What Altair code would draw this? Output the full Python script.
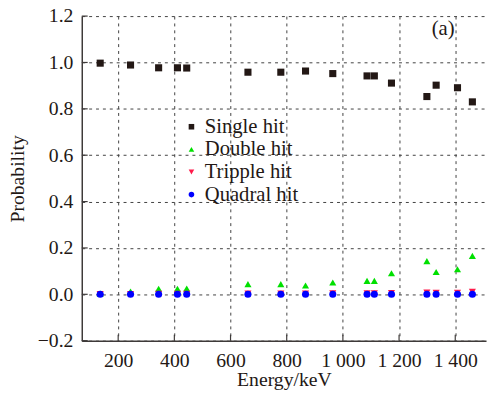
import altair as alt
import pandas as pd

# ---- data ----
energy = [136, 244, 344, 411, 444, 662, 779, 867, 964, 1086, 1112, 1173, 1299, 1332, 1408, 1461]
single_hit = [0.997, 0.989, 0.977, 0.977, 0.976, 0.958, 0.958, 0.963, 0.952, 0.942, 0.942, 0.911, 0.853, 0.902, 0.891, 0.830]
double_hit = [0.003, 0.012, 0.024, 0.024, 0.025, 0.044, 0.044, 0.038, 0.051, 0.058, 0.058, 0.091, 0.143, 0.096, 0.108, 0.166]
tripple_hit = [0.001, 0.001, 0.002, 0.002, 0.002, 0.003, 0.003, 0.003, 0.004, 0.004, 0.004, 0.005, 0.007, 0.006, 0.006, 0.011]
quadral_hit = [0.0, 0.0, 0.0, 0.0, 0.0, 0.0, 0.0, 0.0, 0.0, 0.0, 0.0, 0.0, 0.0, 0.0, 0.0, 0.0]

series_names = ["Single hit", "Double hit", "Tripple hit", "Quadral hit"]
series_colors = ["#231815", "#00e000", "#ff1a4a", "#0000ff"]
series_shapes = ["square", "triangle-up", "triangle-down", "circle"]

x_ticks = [200, 400, 600, 800, 1000, 1200, 1400]
y_ticks = [-0.2, 0.0, 0.2, 0.4, 0.6, 0.8, 1.0, 1.2]

panel_label = ["(a)"]
panel_label_x = [1357]
panel_label_y = [1.143]

# ---- build tables ----
rows = []
idx = 0
for name, vals in zip(series_names, [single_hit, double_hit, tripple_hit, quadral_hit]):
    for e, v in zip(energy, vals):
        rows.append({"energy": e, "prob": v, "series": name, "idx": idx})
        idx += 1
df = pd.DataFrame(rows)

text_color = "#231815"
axis_color = "#3e3a39"
font = "Liberation Serif"
W, H = 411, 330

x_scale = alt.Scale(domain=[70.4, 1509.6], nice=False, zero=False)
y_scale = alt.Scale(domain=[-0.2, 1.2], nice=False, zero=False)
x_axis = alt.Axis(values=x_ticks, title="Energy/keV",
                  labelExpr="replace(format(datum.value, ','), ',', ' ')",
                  labelPadding=10, titlePadding=0)
y_axis = alt.Axis(values=y_ticks, title="Probability", format=".1f",
                  labelPadding=9, titlePadding=10)
X = alt.X("energy:Q", scale=x_scale, axis=x_axis)
Y = alt.Y("prob:Q", scale=y_scale, axis=y_axis)

legend_cfg = dict(
    title=None, orient="none", legendX=101, legendY=102,
    labelFont=font, labelFontSize=21, labelColor=text_color,
    symbolSize=32, symbolStrokeWidth=0, labelOffset=3, rowPadding=1,
    padding=0,
)

points = alt.Chart(df).mark_point(filled=True, size=52, opacity=1, strokeWidth=0).encode(
    x=X, y=Y,
    color=alt.Color("series:N", scale=alt.Scale(domain=series_names, range=series_colors),
                    legend=alt.Legend(**legend_cfg)),
    shape=alt.Shape("series:N", scale=alt.Scale(domain=series_names, range=series_shapes),
                    legend=alt.Legend(**legend_cfg)),
    order=alt.Order("idx:Q"),
)

ytick_df = pd.DataFrame({"prob": y_ticks})
ytick_rules = alt.Chart(ytick_df).mark_rule(color=axis_color, strokeWidth=1.2).encode(
    y=Y, x=alt.value(0), x2=alt.value(6),
)

xtick_df = pd.DataFrame({"energy": x_ticks})
xtick_rules = alt.Chart(xtick_df).mark_rule(color=axis_color, strokeWidth=1.2).encode(
    x=X, y=alt.value(H), y2=alt.value(H - 6),
)

label_df = pd.DataFrame({"energy": panel_label_x, "prob": panel_label_y, "txt": panel_label})
label = alt.Chart(label_df).mark_text(font=font, fontSize=21, color=text_color).encode(
    x=X, y=Y, text="txt:N",
)

chart = alt.layer(points, ytick_rules, xtick_rules, label).properties(
    width=W, height=H,
    padding={"left": 75, "top": 5, "right": 2, "bottom": 52},
    autosize=alt.AutoSizeParams(type="none"),
).configure_view(strokeWidth=0).configure_axis(
    grid=True, gridColor="#404040", gridDash=[3, 4], gridWidth=1, gridOpacity=1,
    domainColor=axis_color, domainWidth=1.5, ticks=False,
    labelFont=font, labelFontSize=20, labelColor=text_color,
    titleFont=font, titleFontSize=20, titleFontWeight="normal", titleColor=text_color,
)

chart.save("out.html", embed_options={"renderer": "svg", "actions": False})
